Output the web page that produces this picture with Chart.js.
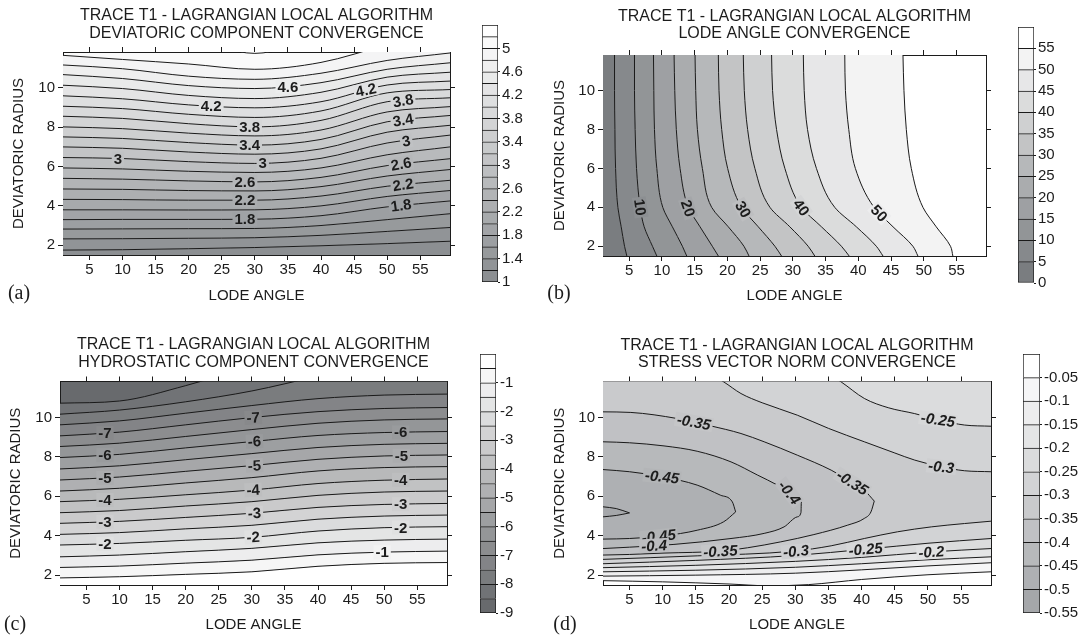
<!DOCTYPE html>
<html lang="en">
<head>
    <meta charset="UTF-8">
    <title>Trace T1 - Lagrangian Local Algorithm</title>
    <script src="https://cdn.jsdelivr.net/npm/chart.js"></script>
    <style>
        body { margin: 0; background: #ffffff; }
        #sheet { position: relative; width: 1086px; height: 638px; overflow: hidden; }
        #sheet canvas { position: absolute; }
    </style>
</head>
<body>
<div id="sheet">
    <canvas id="plotA" width="470" height="320" style="left:0px;top:0px"></canvas>
    <canvas id="barA" width="64" height="320" style="left:476px;top:0px"></canvas>
    <canvas id="plotB" width="466" height="320" style="left:540px;top:0px"></canvas>
    <canvas id="barB" width="76" height="320" style="left:1010px;top:0px"></canvas>
    <canvas id="plotC" width="470" height="318" style="left:0px;top:320px"></canvas>
    <canvas id="barC" width="66" height="318" style="left:474px;top:320px"></canvas>
    <canvas id="plotD" width="471" height="318" style="left:540px;top:320px"></canvas>
    <canvas id="barD" width="70" height="318" style="left:1016px;top:320px"></canvas>
</div>
<script>
    // ---------- shared axes ----------
    const lodeRange = [1, 59.5];
    const radiusRange = [1.5, 11.83];
    const lodeTicks = [5, 10, 15, 20, 25, 30, 35, 40, 45, 50, 55];
    const radiusTicks = [2, 4, 6, 8, 10];

    // ---------- (a) deviatoric component: radius of each contour at lodeA ----------
    const lodeA = [1, 10, 20, 30, 40, 50, 59.5];
    const levelsA = [1.2, 1.4, 1.6, 1.8, 2.0, 2.2, 2.4, 2.6, 2.8, 3.0, 3.2, 3.4, 3.6, 3.8, 4.0, 4.2, 4.4, 4.6, 4.8, 5.0];
    const radiusA = [
        [1.75, 1.77, 1.82, 1.88, 1.97, 2.08, 2.20],
        [2.32, 2.33, 2.35, 2.38, 2.50, 2.70, 2.90],
        [2.82, 2.83, 2.84, 2.85, 3.00, 3.30, 3.60],
        [3.30, 3.31, 3.31, 3.32, 3.50, 3.95, 4.25],
        [3.80, 3.80, 3.79, 3.80, 4.00, 4.48, 4.78],
        [4.33, 4.32, 4.29, 4.29, 4.50, 5.00, 5.30],
        [4.86, 4.84, 4.78, 4.76, 4.98, 5.52, 5.85],
        [5.40, 5.36, 5.27, 5.22, 5.45, 6.05, 6.40],
        [5.93, 5.88, 5.76, 5.70, 5.93, 6.60, 7.00],
        [6.46, 6.41, 6.25, 6.16, 6.42, 7.20, 7.60],
        [7.00, 6.93, 6.74, 6.63, 6.90, 7.75, 8.10],
        [7.51, 7.43, 7.22, 7.09, 7.38, 8.28, 8.60],
        [8.02, 7.93, 7.70, 7.56, 7.86, 8.78, 9.05],
        [8.56, 8.45, 8.18, 8.02, 8.35, 9.30, 9.50],
        [9.07, 8.95, 8.66, 8.50, 8.83, 9.75, 9.92],
        [9.60, 9.45, 9.14, 8.99, 9.30, 10.15, 10.35],
        [10.14, 9.97, 9.62, 9.46, 9.78, 10.55, 10.80],
        [10.68, 10.48, 10.12, 9.97, 10.27, 10.95, 11.28],
        [11.17, 10.98, 10.60, 10.44, 10.75, 11.40, 11.78],
        [11.66, 11.45, 11.22, 10.95, 11.30, 12.20, 13.00]
    ];
    const capLodeA = [25, 30, 35];          // 5.2 contour touching the top edge
    const capRadiusA = [12.0, 11.76, 12.0];
    const binsA = [1, 1.2, 1.4, 1.6, 1.8, 2, 2.2, 2.4, 2.6, 2.8, 3, 3.2, 3.4, 3.6, 3.8, 4, 4.2, 4.4, 4.6, 4.8, 5, 5.2, 5.4];
    const barTicksA = [1, 1.4, 1.8, 2.2, 2.6, 3, 3.4, 3.8, 4.2, 4.6, 5];
    const labelsA = [
        [35.0, 10.08, '4.6', 0], [46.8, 9.90, '4.2', -12], [52.4, 9.36, '3.8', -10],
        [52.4, 8.37, '3.4', -10], [52.9, 7.30, '3', -10], [52.1, 6.14, '2.6', -10],
        [52.4, 5.08, '2.2', -9], [52.1, 4.03, '1.8', -8],
        [23.4, 9.08, '4.2', 0], [29.2, 8.03, '3.8', 0], [29.2, 7.10, '3.4', 0],
        [31.2, 6.17, '3', 0], [28.5, 5.23, '2.6', 0], [28.5, 4.29, '2.2', 0],
        [28.5, 3.32, '1.8', 0], [9.3, 6.41, '3', 0]
    ];

    // ---------- (b) lode angle: lode of each contour at radiusB ----------
    const radiusB = [1.5, 2, 3, 4, 6, 8, 10, 11.83];
    const levelsB = [5, 10, 15, 20, 25, 30, 35, 40, 45, 50, 55];
    const lodeB = [
        [4.64, 4.29, 3.78, 3.27, 2.92, 2.82, 2.76, 2.76],
        [9.22, 8.56, 7.29, 6.68, 6.12, 5.91, 5.81, 5.81],
        [13.79, 13.13, 11.60, 10.13, 9.22, 8.86, 8.76, 8.71],
        [18.62, 17.70, 15.82, 14.04, 12.77, 12.20, 11.96, 11.86],
        [23.30, 22.53, 20.14, 17.60, 16.18, 15.42, 15.16, 15.06],
        [28.27, 27.26, 24.72, 22.17, 20.04, 19.13, 18.72, 18.62],
        [33.35, 32.34, 29.54, 26.50, 24.20, 23.09, 22.58, 22.43],
        [38.60, 37.42, 34.37, 31.32, 28.78, 27.51, 26.90, 26.75],
        [43.77, 42.75, 39.70, 36.40, 33.60, 32.24, 31.73, 31.60],
        [49.10, 48.34, 45.30, 42.40, 39.55, 38.54, 38.03, 37.93],
        [54.44, 54.08, 51.90, 49.87, 48.09, 47.33, 46.97, 46.82]
    ];
    const binsB = [0, 5, 10, 15, 20, 25, 30, 35, 40, 45, 50, 55, 60];
    const barTicksB = [0, 5, 10, 15, 20, 25, 30, 35, 40, 45, 50, 55];
    const labelsB = [
        [6.68, 4.0, '10', 82], [14.0, 3.95, '20', 71], [22.4, 3.9, '30', 60],
        [31.3, 4.0, '40', 54], [43.2, 3.7, '50', 47]
    ];

    // ---------- (c) hydrostatic component: radius of each contour at lodeC ----------
    const lodeC = [1, 10, 20, 30, 40, 50, 59.5];
    const levelsC = [-0.5, -1, -1.5, -2, -2.5, -3, -3.5, -4, -4.5, -5, -5.5, -6, -6.5, -7, -7.5, -8, -8.5];
    const radiusC = [
        [1.86, 1.92, 2.04, 2.17, 2.45, 2.60, 2.64],
        [2.39, 2.46, 2.61, 2.76, 3.03, 3.17, 3.22],
        [2.93, 3.02, 3.19, 3.36, 3.64, 3.78, 3.83],
        [3.53, 3.61, 3.77, 3.92, 4.24, 4.41, 4.46],
        [4.07, 4.16, 4.35, 4.53, 4.84, 5.00, 5.05],
        [4.63, 4.73, 4.93, 5.14, 5.44, 5.59, 5.64],
        [5.17, 5.28, 5.51, 5.73, 6.05, 6.22, 6.27],
        [5.73, 5.85, 6.08, 6.32, 6.65, 6.82, 6.88],
        [6.27, 6.41, 6.68, 6.95, 7.29, 7.46, 7.51],
        [6.83, 6.98, 7.27, 7.56, 7.88, 8.05, 8.10],
        [7.39, 7.55, 7.86, 8.17, 8.48, 8.64, 8.69],
        [7.97, 8.13, 8.46, 8.78, 9.09, 9.24, 9.29],
        [8.53, 8.70, 9.04, 9.39, 9.71, 9.88, 9.93],
        [9.07, 9.26, 9.63, 10.00, 10.30, 10.46, 10.51],
        [9.63, 9.83, 10.22, 10.61, 10.96, 11.14, 11.19],
        [10.17, 10.38, 10.80, 11.35, 12.10, 12.80, 13.20],
        [10.73, 10.84, 11.62, 12.60, 13.30, 13.60, 13.80]
    ];
    const binsC = [-9, -8.5, -8, -7.5, -7, -6.5, -6, -5.5, -5, -4.5, -4, -3.5, -3, -2.5, -2, -1.5, -1, -0.5, 0];
    const barTicksC = [-9, -8, -7, -6, -5, -4, -3, -2, -1];
    const labelsC = [
        [7.8, 9.21, '-7', 0], [7.8, 8.09, '-6', 0], [7.8, 6.94, '-5', 0],
        [7.8, 5.82, '-4', 0], [7.8, 4.71, '-3', 0], [7.8, 3.59, '-2', 0],
        [30.2, 10.0, '-7', -3], [30.4, 8.79, '-6', -3], [30.4, 7.57, '-5', -3],
        [30.2, 6.33, '-4', -3], [30.4, 5.15, '-3', -3], [30.2, 3.93, '-2', -3],
        [52.5, 9.25, '-6', 0], [52.6, 8.06, '-5', 0], [52.5, 6.84, '-4', 0],
        [52.5, 5.60, '-3', 0], [52.5, 4.42, '-2', 0], [49.7, 3.16, '-1', 0]
    ];

    // ---------- (d) stress vector norm: [lode, radius] along each contour branch ----------
    const levelsD = [-0.5, -0.45, -0.4, -0.35, -0.3, -0.25, -0.2, -0.15, -0.1, -0.05];
    const upperD = [
        [[1, 5.47], [3, 5.38], [5, 5.16]],
        [[1, 7.36], [5, 7.25], [9.9, 7.0], [15.2, 6.57], [18.7, 6.06], [20.5, 5.72], [21, 5.21]],
        [[1, 8.77], [5, 8.72], [10.2, 8.56], [15.2, 8.29], [20.3, 7.75], [24.3, 7.08], [27.3, 6.57], [29.8, 6.06], [30.9, 5.72]],
        [[1, 10.29], [5.2, 10.26], [12.2, 9.95], [17.2, 9.58], [21.8, 9.19], [25.3, 8.77], [30.3, 8.09], [35.4, 7.33], [38.4, 6.74], [40.4, 6.31], [41.9, 5.76]],
        [[1, 14.5], [10, 13.4], [15, 12.6], [19.2, 11.81], [21.8, 11.22], [25, 10.75], [30.3, 10.12], [35, 9.45], [40.4, 8.77], [45, 8.2], [48, 7.84], [52, 7.5], [55.5, 7.3], [59.5, 7.25]],
        [[1, 16], [20, 14.5], [30, 13.2], [35, 12.2], [36.9, 11.81], [40.4, 10.97], [44, 10.5], [48, 10.2], [52, 9.85], [55.5, 9.62], [59.5, 9.56]],
        null, null, null, null
    ];
    const lowerD = [
        [[1, 4.96], [3, 5.03], [5, 5.16]],
        [[1, 3.83], [5, 3.86], [10.2, 4.0], [15.2, 4.28], [19.2, 4.71], [21, 5.21]],
        [[1, 3.35], [5, 3.42], [11.7, 3.56], [20.3, 3.86], [25.3, 4.12], [28.3, 4.45], [30.3, 4.96], [30.85, 5.18], [30.9, 5.72]],
        [[1, 3.02], [5, 3.05], [10.2, 3.12], [18.7, 3.22], [22.8, 3.39], [27.8, 3.69], [32.8, 4.06], [37.9, 4.54], [40.4, 4.88], [41.4, 5.21], [41.9, 5.76]],
        [[1, 2.8], [15.2, 2.98], [29.8, 3.22], [35.4, 3.49], [40.4, 3.86], [45.4, 4.2], [50.5, 4.45], [55.5, 4.62], [59.5, 4.74]],
        [[1, 2.58], [15, 2.75], [30, 3.0], [40.6, 3.32], [50, 3.62], [59.5, 3.86]],
        [[1, 2.38], [15, 2.5], [30, 2.7], [40, 2.9], [50.5, 3.18], [59.5, 3.35]],
        [[1, 2.17], [15, 2.25], [30, 2.4], [40, 2.58], [50, 2.78], [59.5, 2.93]],
        [[1, 1.95], [15, 2.0], [30, 2.1], [40, 2.27], [50, 2.47], [59.5, 2.63]],
        [[1, 1.72], [10, 1.66], [20, 1.55], [26, 1.46], [32, 1.52], [40, 1.78], [50, 2.02], [59.5, 2.17]]
    ];
    const binsD = [-0.55, -0.5, -0.45, -0.4, -0.35, -0.3, -0.25, -0.2, -0.15, -0.1, -0.05, 0];
    const barTicksD = [-0.55, -0.5, -0.45, -0.4, -0.35, -0.3, -0.25, -0.2, -0.15, -0.1, -0.05];
    const labelsD = [
        [14.7, 9.77, '-0.35', 10], [51.5, 9.89, '-0.25', 8], [9.9, 7.0, '-0.45', 6],
        [52.0, 7.5, '-0.3', 6], [29.1, 6.2, '-0.4', 52], [38.6, 6.7, '-0.35', 32],
        [9.4, 3.98, '-0.45', -6], [8.7, 3.5, '-0.4', -3], [18.7, 3.22, '-0.35', -3],
        [30.1, 3.22, '-0.3', -5], [40.6, 3.32, '-0.25', -5], [50.5, 3.18, '-0.2', -4]
    ];

    // ---------- styling ----------
    const SANS = "'Liberation Sans', Arial, Helvetica, sans-serif";
    const SERIF = "'Liberation Serif', 'Times New Roman', serif";
    const INK = '#1c1c1c';
    const LINE = '#1a1a1a';
    const TITLE_LINE_1 = 'TRACE T1 - LAGRANGIAN LOCAL ALGORITHM';

    Chart.defaults.font.family = SANS;
    Chart.defaults.color = INK;

    function grayRamp(n, dark) {
        const out = [];
        for (let i = 0; i < n; i++) {
            const t = i / (n - 1);
            out.push(dark.map(v => Math.round(v + (255 - v) * t)));
        }
        return out;
    }
    const css = c => `rgb(${c[0]},${c[1]},${c[2]})`;

    const palA = grayRamp(22, [140, 143, 146]);
    const palB = grayRamp(12, [122, 125, 128]);
    const palC = grayRamp(18, [104, 106, 109]);
    const palD = grayRamp(11, [165, 167, 170]);

    // label background = mix of the two bands either side of that contour
    function bandMix(bins, pal, v) {
        let k = bins.findIndex(b => Math.abs(b - v) < 1e-9);
        if (k < 0) k = 1;
        const lo = pal[Math.max(k - 1, 0)], hi = pal[Math.min(k, pal.length - 1)];
        return css(lo.map((c, i) => Math.round((c + hi[i]) / 2)));
    }

    // background, contour labels, titles and panel letter
    function overlay(p) {
        return {
            id: 'overlay',
            beforeDraw(chart) {
                const {ctx, chartArea: a} = chart;
                ctx.save();
                ctx.fillStyle = p.background;
                ctx.fillRect(a.left, a.top, a.width, a.height);
                ctx.restore();
            },
            afterDatasetsDraw(chart) {
                const {ctx, chartArea: a, scales} = chart;
                ctx.save();
                ctx.beginPath();
                ctx.rect(a.left, a.top, a.width, a.height);
                ctx.clip();
                ctx.font = p.labelFont;
                ctx.textAlign = 'center';
                ctx.textBaseline = 'middle';
                p.labels.forEach(([lx, ly, text, angle]) => {
                    const px = scales.x.getPixelForValue(lx);
                    const py = scales.y.getPixelForValue(ly);
                    const w = ctx.measureText(text).width + 4;
                    ctx.save();
                    ctx.translate(px, py);
                    ctx.rotate(angle * Math.PI / 180);
                    ctx.fillStyle = bandMix(p.bins, p.pal, parseFloat(text));
                    ctx.fillRect(-w / 2, -7, w, 14);
                    ctx.fillStyle = INK;
                    ctx.fillText(text, 0, 1);
                    ctx.restore();
                });
                ctx.restore();
            },
            afterDraw(chart) {
                const {ctx, chartArea: a} = chart;
                ctx.save();
                ctx.fillStyle = INK;
                ctx.textAlign = 'center';
                ctx.textBaseline = 'middle';
                ctx.font = `16px ${SANS}`;
                const cx = (a.left + a.right) / 2;
                ctx.fillText(TITLE_LINE_1, cx, p.titleY[0]);
                ctx.fillText(p.subtitle, cx, p.titleY[1]);
                ctx.font = `20px ${SERIF}`;
                ctx.fillText(p.letter, p.letterAt[0], p.letterAt[1]);
                ctx.restore();
            }
        };
    }

    function axis(position, ticks, range, extra) {
        return Object.assign({
            type: 'linear',
            position,
            min: range[0],
            max: range[1],
            afterBuildTicks: s => { s.ticks = ticks.map(v => ({value: v})); },
            grid: { drawOnChartArea: false, drawTicks: true, tickLength: 5, color: INK },
            border: { display: true, color: INK, width: 1 },
            ticks: { display: false }
        }, extra);
    }

    function contourPanel(id, p) {
        const font = { family: SANS, size: 15 };
        const tickText = { display: true, color: INK, font, maxRotation: 0, autoSkip: false, callback: v => String(v) };
        return new Chart(document.getElementById(id), {
            type: 'line',
            data: { datasets: p.datasets },
            options: {
                responsive: false,
                animation: false,
                events: [],
                indexAxis: p.indexAxis || 'x',
                layout: { padding: 0 },
                elements: {
                    point: { radius: 0 },
                    line: { borderColor: LINE, borderWidth: 1, cubicInterpolationMode: 'monotone' }
                },
                plugins: {
                    legend: { display: false },
                    tooltip: { enabled: false },
                    filler: { drawTime: 'beforeDatasetsDraw', propagate: false }
                },
                scales: {
                    x: axis('bottom', lodeTicks, lodeRange, {
                        afterFit: s => { s.height = p.box.bottom; },
                        ticks: Object.assign({ padding: 1 }, tickText),
                        title: { display: true, text: 'LODE ANGLE', color: INK, font, padding: { top: 0, bottom: p.xTitlePad } }
                    }),
                    x2: axis('top', lodeTicks, lodeRange, { afterFit: s => { s.height = p.box.top; } }),
                    y: axis('left', radiusTicks, radiusRange, {
                        afterFit: s => { s.width = p.box.left; },
                        ticks: Object.assign({ padding: 3 }, tickText),
                        title: { display: true, text: 'DEVIATORIC RADIUS', color: INK, font, padding: { top: p.yTitlePad, bottom: 0 } }
                    }),
                    y2: axis('right', radiusTicks, radiusRange, { afterFit: s => { s.width = p.box.right; } })
                }
            },
            plugins: [overlay(p)]
        });
    }

    function colorbar(id, bins, pal, ticks, pad, axisWidth) {
        const datasets = pal.map((c, i) => ({
            data: [[bins[i], bins[i + 1]]],
            backgroundColor: css(c),
            borderColor: LINE,
            borderWidth: i === 0 ? 1 : { top: 1, left: 1, right: 1, bottom: 0 },
            borderSkipped: false,
            grouped: false,
            barPercentage: 1,
            categoryPercentage: 1
        }));
        return new Chart(document.getElementById(id), {
            type: 'bar',
            data: { labels: [''], datasets },
            options: {
                responsive: false,
                animation: false,
                events: [],
                layout: { padding: pad },
                plugins: { legend: { display: false }, tooltip: { enabled: false } },
                scales: {
                    x: { display: false },
                    y: {
                        type: 'linear',
                        position: 'right',
                        min: bins[0],
                        max: bins[bins.length - 1],
                        afterBuildTicks: s => { s.ticks = ticks.map(v => ({value: v})); },
                        afterFit: s => { s.width = axisWidth; },
                        grid: { drawOnChartArea: false, tickLength: 2, color: LINE },
                        border: { display: false },
                        ticks: { padding: 2, color: INK, font: { family: SANS, size: 15 }, autoSkip: false, callback: v => String(v) }
                    }
                }
            }
        });
    }

    const pts = (xs, ys) => xs.map((x, i) => ({x, y: ys[i]}));
    const pairs = list => list.map(([x, y]) => ({x, y}));

    // ---------- (a) ----------
    const dsA = radiusA.map((row, k) => ({
        label: String(levelsA[k]),
        data: pts(lodeA, row),
        fill: k === 0 ? 'start' : '-1',
        backgroundColor: css(palA[k])
    }));
    dsA.push({ label: '5.2', data: pts(capLodeA, capRadiusA), fill: 'end', backgroundColor: css(palA[21]) });
    contourPanel('plotA', {
        datasets: dsA, background: css(palA[20]), bins: binsA, pal: palA,
        labels: labelsA, labelFont: `bold 15px ${SANS}`,
        box: { left: 63, right: 20, top: 52, bottom: 65 }, xTitlePad: 15, yTitlePad: 10,
        subtitle: 'DEVIATORIC COMPONENT CONVERGENCE', titleY: [16, 33.5], letter: '(a)', letterAt: [19, 294]
    });
    colorbar('barA', binsA, palA, barTicksA, { left: 6, right: 0, top: 25, bottom: 38 }, 42);

    // ---------- (b) contours are x(y), so the radius is the index axis ----------
    const dsB = lodeB.map((row, k) => ({
        label: String(levelsB[k]),
        data: row.map((x, i) => ({x, y: radiusB[i]})),
        fill: k === 0 ? { value: lodeRange[0] } : '-1',
        backgroundColor: css(palB[k])
    }));
    contourPanel('plotB', {
        datasets: dsB, indexAxis: 'y', background: css(palB[11]), bins: binsB, pal: palB,
        labels: labelsB, labelFont: `bold 15px ${SANS}`,
        box: { left: 63, right: 20, top: 55, bottom: 64 }, xTitlePad: 15, yTitlePad: 11,
        subtitle: 'LODE ANGLE CONVERGENCE', titleY: [16.5, 34], letter: '(b)', letterAt: [19, 294]
    });
    colorbar('barB', binsB, palB, barTicksB, { left: 8, right: 0, top: 27, bottom: 37 }, 52);

    // ---------- (c) ----------
    const dsC = radiusC.map((row, k) => ({
        label: String(levelsC[k]),
        data: pts(lodeC, row),
        fill: k === 0 ? 'start' : '-1',
        backgroundColor: css(palC[17 - k])
    }));
    contourPanel('plotC', {
        datasets: dsC, background: css(palC[0]), bins: binsC, pal: palC,
        labels: labelsC, labelFont: `bold 15px ${SANS}`,
        box: { left: 60, right: 23, top: 61.5, bottom: 53 }, xTitlePad: 4, yTitlePad: 6.5,
        subtitle: 'HYDROSTATIC COMPONENT CONVERGENCE', titleY: [25, 42.5], letter: '(c)', letterAt: [15, 305]
    });
    colorbar('barC', binsC, palC, barTicksC, { left: 6, right: 0, top: 34, bottom: 25 }, 44);

    // ---------- (d) nested regions painted largest first; index 0 ends on top ----------
    const dsD = [];
    levelsD.forEach((lvl, k) => {
        const color = css(palD[k]);
        if (upperD[k]) {
            dsD.push({ label: lvl + ' upper', data: pairs(upperD[k]), fill: false });
            dsD.push({ label: lvl + ' lower', data: pairs(lowerD[k]), fill: '-1', backgroundColor: color });
        } else {
            dsD.push({ label: String(lvl), data: pairs(lowerD[k]), fill: 'end', backgroundColor: color });
        }
    });
    contourPanel('plotD', {
        datasets: dsD, background: css(palD[10]), bins: binsD, pal: palD,
        labels: labelsD, labelFont: `italic bold 15px ${SANS}`,
        box: { left: 63, right: 20, top: 61.5, bottom: 53 }, xTitlePad: 4, yTitlePad: 11,
        subtitle: 'STRESS VECTOR NORM CONVERGENCE', titleY: [25.5, 42.5], letter: '(d)', letterAt: [25, 305]
    });
    colorbar('barD', binsD, palD, barTicksD, { left: 7, right: 0, top: 34, bottom: 25 }, 46);
</script>
</body>
</html>
